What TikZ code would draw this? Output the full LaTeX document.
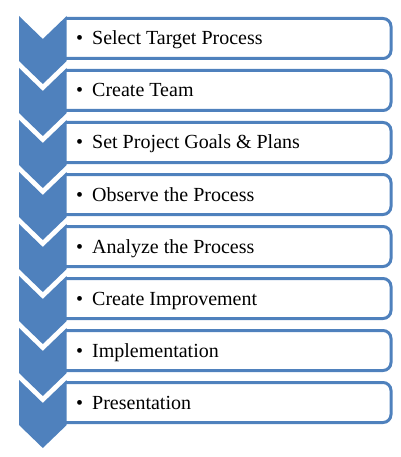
\documentclass[tikz,border=0pt]{standalone}
\usepackage{fontspec}
\setmainfont{Liberation Serif}
\usetikzlibrary{positioning}
\definecolor{chevblue}{RGB}{79,129,189}
\tikzset{>=latex}

\begin{document}
\begin{tikzpicture}[x=1pt,y=-1pt,
    chevron/.style={fill=chevblue},
    stepbox/.style={draw=chevblue,line width=3pt,rounded corners=8pt},
    steptext/.style={anchor=base west,inner sep=0pt,font=\fontsize{20}{24}\selectfont}]
  \useasboundingbox (0,0) rectangle (400,457);
  \foreach \txt [count=\i from 0] in {Select Target Process,Create Team,
      Set Project Goals \& Plans,Observe the Process,Analyze the Process,
      Create Improvement,Implementation,Presentation}{
    \pgfmathsetmacro{\yt}{18.5+52*\i}
    \pgfmathsetmacro{\yc}{16+52*\i}
    % box, right corners rounded
    \draw[stepbox] (66,\yt) -- (391,\yt) -- (391,\yt+40) -- (66,\yt+40);
    \fill[chevron] (19,\yc) -- (42.8,\yc+23) -- (66.7,\yc) -- (66.7,\yc+45)
      -- (42.8,\yc+68) -- (19,\yc+45) -- cycle;
    \node[steptext] (step\i) at (75.8,\yt+26.5) {\makebox[16.2pt][l]{\textbullet}\txt};
  }
\end{tikzpicture}
\end{document}
